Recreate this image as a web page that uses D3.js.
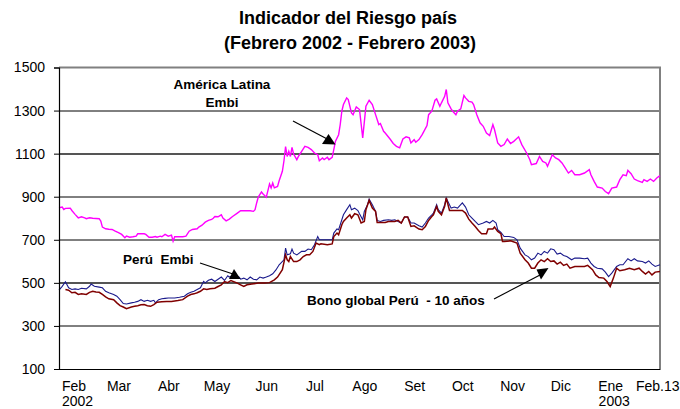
<!DOCTYPE html>
<html>
<head>
<meta charset="utf-8">
<script src="https://cdn.jsdelivr.net/npm/d3@7"></script>
<style>
  body { margin: 0; background: #fff; }
  svg { font-family: Arial, "Liberation Sans", sans-serif; }
  .note { font-size: 13.5px; font-weight: bold; white-space: pre; }
</style>
</head>
<body>
<div id="chart"></div>
<script>
// Chart values
var yTicks = [100, 300, 500, 700, 900, 1100, 1300, 1500];
var monthTicks = ["2002-02-13", "2002-03-13", "2002-04-13", "2002-05-13", "2002-06-13", "2002-07-13",
  "2002-08-13", "2002-09-13", "2002-10-13", "2002-11-13", "2002-12-13", "2003-01-13", "2003-02-13"];
var monthLabels = ["Feb", "Mar", "Abr", "May", "Jun", "Jul", "Ago", "Set", "Oct", "Nov", "Dic", "Ene", "Feb.13"];
var yearLabels = [["2002-02-13", "2002"], ["2003-01-13", "2003"]];

// América Latina Embi
var latamEmbi = [
  ["2002-02-04",849],["2002-02-06",852],["2002-02-07",841],["2002-02-08",846],["2002-02-11",847],["2002-02-12",836],
  ["2002-02-14",818],["2002-02-16",802],["2002-02-18",807],["2002-02-20",802],["2002-02-21",798],["2002-02-23",802],
  ["2002-02-25",800],["2002-02-27",799],["2002-03-01",798],["2002-03-02",787],["2002-03-03",759],["2002-03-05",751],
  ["2002-03-07",749],["2002-03-09",748],["2002-03-11",740],["2002-03-13",733],["2002-03-15",725],["2002-03-17",709],
  ["2002-03-18",717],["2002-03-20",712],["2002-03-22",714],["2002-03-24",717],["2002-03-25",728],["2002-03-27",728],
  ["2002-03-29",728],["2002-03-30",725],["2002-04-01",712],["2002-04-03",712],["2002-04-05",715],["2002-04-06",712],
  ["2002-04-08",717],["2002-04-09",714],["2002-04-11",725],["2002-04-13",717],["2002-04-15",722],["2002-04-16",694],
  ["2002-04-17",714],["2002-04-19",714],["2002-04-22",714],["2002-04-24",717],["2002-04-26",740],["2002-04-28",748],
  ["2002-05-01",751],["2002-05-02",759],["2002-05-04",768],["2002-05-06",782],["2002-05-08",790],["2002-05-10",795],
  ["2002-05-11",800],["2002-05-12",808],["2002-05-14",807],["2002-05-16",816],["2002-05-17",801],["2002-05-19",788],
  ["2002-05-21",796],["2002-05-23",808],["2002-05-26",824],["2002-05-28",835],["2002-05-30",835],["2002-06-01",835],
  ["2002-06-03",835],["2002-06-05",832],["2002-06-06",840],["2002-06-07",871],["2002-06-08",898],["2002-06-10",922],
  ["2002-06-11",913],["2002-06-13",898],["2002-06-14",928],["2002-06-15",959],["2002-06-16",941],["2002-06-17",964],
  ["2002-06-18",941],["2002-06-20",948],["2002-06-21",974],["2002-06-23",1018],["2002-06-24",1067],["2002-06-25",1133],
  ["2002-06-26",1087],["2002-06-27",1111],["2002-06-28",1087],["2002-06-29",1129],["2002-06-30",1098],["2002-07-02",1072],
  ["2002-07-03",1087],["2002-07-05",1111],["2002-07-07",1134],["2002-07-09",1129],["2002-07-11",1119],["2002-07-13",1103],
  ["2002-07-15",1095],["2002-07-16",1067],["2002-07-18",1080],["2002-07-19",1072],["2002-07-21",1083],["2002-07-22",1072],
  ["2002-07-24",1083],["2002-07-25",1119],["2002-07-26",1157],["2002-07-28",1188],["2002-07-29",1235],["2002-07-30",1297],
  ["2002-07-31",1328],["2002-08-02",1359],["2002-08-03",1351],["2002-08-05",1289],["2002-08-06",1281],["2002-08-08",1317],
  ["2002-08-10",1305],["2002-08-12",1173],["2002-08-14",1320],["2002-08-16",1348],["2002-08-18",1328],["2002-08-20",1281],
  ["2002-08-22",1235],["2002-08-23",1240],["2002-08-25",1204],["2002-08-26",1196],["2002-08-29",1168],["2002-08-31",1147],
  ["2002-09-02",1134],["2002-09-04",1127],["2002-09-06",1168],["2002-09-08",1178],["2002-09-10",1173],["2002-09-11",1150],
  ["2002-09-13",1165],["2002-09-14",1153],["2002-09-16",1165],["2002-09-18",1188],["2002-09-21",1230],["2002-09-22",1281],
  ["2002-09-24",1297],["2002-09-26",1348],["2002-09-27",1354],["2002-09-29",1320],["2002-09-30",1336],["2002-10-02",1366],
  ["2002-10-03",1398],["2002-10-04",1336],["2002-10-06",1308],["2002-10-07",1297],["2002-10-09",1281],["2002-10-10",1297],
  ["2002-10-12",1308],["2002-10-14",1370],["2002-10-15",1359],["2002-10-17",1343],["2002-10-19",1339],["2002-10-20",1328],
  ["2002-10-22",1281],["2002-10-24",1243],["2002-10-26",1227],["2002-10-28",1196],["2002-10-30",1184],["2002-11-01",1235],
  ["2002-11-02",1212],["2002-11-04",1150],["2002-11-06",1134],["2002-11-08",1142],["2002-11-10",1168],["2002-11-12",1147],
  ["2002-11-14",1157],["2002-11-17",1178],["2002-11-19",1142],["2002-11-22",1103],["2002-11-24",1072],["2002-11-25",1049],
  ["2002-11-28",1054],["2002-11-30",1087],["2002-12-02",1064],["2002-12-04",1057],["2002-12-05",1041],["2002-12-08",1095],
  ["2002-12-10",1080],["2002-12-12",1072],["2002-12-14",1057],["2002-12-16",1034],["2002-12-18",1010],["2002-12-20",1022],
  ["2002-12-22",1002],["2002-12-25",1002],["2002-12-28",1010],["2002-12-31",1026],["2003-01-01",1002],["2003-01-03",971],
  ["2003-01-05",945],["2003-01-08",940],["2003-01-10",924],["2003-01-12",914],["2003-01-14",940],["2003-01-17",945],
  ["2003-01-19",979],["2003-01-21",1002],["2003-01-23",998],["2003-01-24",1022],["2003-01-26",1007],["2003-01-28",982],
  ["2003-01-30",975],["2003-02-02",967],["2003-02-03",979],["2003-02-05",971],["2003-02-07",982],["2003-02-09",971],
  ["2003-02-11",987],["2003-02-13",998]
];

// Perú Embi
var peruEmbi = [
  ["2002-02-04",466],["2002-02-06",484],["2002-02-08",505],["2002-02-10",477],["2002-02-12",469],["2002-02-14",472],
  ["2002-02-16",469],["2002-02-18",475],["2002-02-21",472],["2002-02-23",484],["2002-02-24",495],["2002-02-26",484],
  ["2002-03-01",480],["2002-03-03",477],["2002-03-05",461],["2002-03-07",454],["2002-03-10",446],["2002-03-12",438],
  ["2002-03-14",422],["2002-03-16",404],["2002-03-18",402],["2002-03-21",407],["2002-03-23",410],["2002-03-25",414],
  ["2002-03-27",422],["2002-03-29",414],["2002-03-31",419],["2002-04-02",414],["2002-04-04",419],["2002-04-05",407],
  ["2002-04-07",422],["2002-04-09",426],["2002-04-11",428],["2002-04-13",430],["2002-04-17",430],["2002-04-20",433],
  ["2002-04-23",438],["2002-04-25",449],["2002-04-27",456],["2002-04-29",461],["2002-05-01",469],["2002-05-03",477],
  ["2002-05-05",507],["2002-05-06",500],["2002-05-08",512],["2002-05-10",517],["2002-05-12",506],["2002-05-14",517],
  ["2002-05-16",527],["2002-05-18",511],["2002-05-20",533],["2002-05-21",527],["2002-05-23",533],["2002-05-27",527],
  ["2002-05-28",517],["2002-05-30",522],["2002-06-01",514],["2002-06-03",527],["2002-06-05",517],["2002-06-07",514],
  ["2002-06-09",527],["2002-06-11",522],["2002-06-13",527],["2002-06-15",533],["2002-06-17",542],["2002-06-19",560],
  ["2002-06-21",584],["2002-06-24",607],["2002-06-25",661],["2002-06-26",630],["2002-06-28",635],["2002-06-29",657],
  ["2002-06-30",638],["2002-07-02",630],["2002-07-05",646],["2002-07-07",646],["2002-07-09",657],["2002-07-11",654],
  ["2002-07-13",677],["2002-07-15",715],["2002-07-16",700],["2002-07-18",700],["2002-07-21",700],["2002-07-24",700],
  ["2002-07-25",731],["2002-07-27",750],["2002-07-28",747],["2002-07-30",793],["2002-07-31",816],["2002-08-02",840],
  ["2002-08-04",863],["2002-08-05",840],["2002-08-07",847],["2002-08-09",836],["2002-08-10",821],["2002-08-12",793],
  ["2002-08-13",832],["2002-08-15",863],["2002-08-16",889],["2002-08-18",863],["2002-08-20",832],["2002-08-21",790],
  ["2002-08-23",785],["2002-08-25",790],["2002-08-28",793],["2002-08-30",790],["2002-09-01",793],["2002-09-03",785],
  ["2002-09-05",778],["2002-09-07",806],["2002-09-09",806],["2002-09-11",778],["2002-09-13",778],["2002-09-16",765],
  ["2002-09-18",759],["2002-09-20",778],["2002-09-22",801],["2002-09-24",816],["2002-09-25",824],["2002-09-27",863],
  ["2002-09-28",840],["2002-09-30",824],["2002-10-02",863],["2002-10-03",894],["2002-10-05",863],["2002-10-06",847],
  ["2002-10-08",852],["2002-10-10",847],["2002-10-13",871],["2002-10-15",852],["2002-10-17",816],["2002-10-19",801],
  ["2002-10-21",785],["2002-10-23",770],["2002-10-26",778],["2002-10-28",785],["2002-10-30",778],["2002-11-01",790],
  ["2002-11-03",778],["2002-11-04",747],["2002-11-06",734],["2002-11-08",715],["2002-11-11",715],["2002-11-14",711],
  ["2002-11-16",700],["2002-11-18",661],["2002-11-21",630],["2002-11-23",622],["2002-11-25",607],["2002-11-27",615],
  ["2002-11-29",638],["2002-12-01",630],["2002-12-03",646],["2002-12-05",638],["2002-12-07",658],["2002-12-09",654],
  ["2002-12-11",634],["2002-12-13",638],["2002-12-15",627],["2002-12-17",622],["2002-12-20",607],["2002-12-22",615],
  ["2002-12-25",615],["2002-12-28",612],["2002-12-30",615],["2003-01-01",592],["2003-01-03",576],["2003-01-05",568],
  ["2003-01-08",565],["2003-01-10",550],["2003-01-12",529],["2003-01-14",545],["2003-01-17",576],["2003-01-19",584],
  ["2003-01-21",584],["2003-01-24",612],["2003-01-26",602],["2003-01-28",612],["2003-01-30",602],["2003-02-02",599],
  ["2003-02-04",592],["2003-02-06",602],["2003-02-08",587],["2003-02-10",576],["2003-02-13",584]
];

// Bono global Perú - 10 años
var bonoGlobal = [
  ["2002-02-08",469],["2002-02-10",466],["2002-02-12",454],["2002-02-14",456],["2002-02-16",446],["2002-02-18",449],
  ["2002-02-21",446],["2002-02-23",456],["2002-02-25",461],["2002-02-27",458],["2002-03-01",456],["2002-03-03",446],
  ["2002-03-05",435],["2002-03-07",426],["2002-03-10",422],["2002-03-12",407],["2002-03-14",394],["2002-03-16",388],
  ["2002-03-18",380],["2002-03-21",388],["2002-03-23",391],["2002-03-25",394],["2002-03-27",398],["2002-03-29",399],
  ["2002-03-31",394],["2002-04-02",391],["2002-04-04",399],["2002-04-06",410],["2002-04-09",412],["2002-04-12",414],
  ["2002-04-15",414],["2002-04-19",418],["2002-04-22",422],["2002-04-25",438],["2002-04-27",446],["2002-04-29",449],
  ["2002-05-01",454],["2002-05-03",461],["2002-05-05",472],["2002-05-07",469],["2002-05-09",473],["2002-05-12",475],
  ["2002-05-14",483],["2002-05-16",491],["2002-05-18",506],["2002-05-20",501],["2002-05-22",511],["2002-05-26",499],
  ["2002-05-28",491],["2002-05-30",483],["2002-06-01",491],["2002-06-04",495],["2002-06-08",499],["2002-06-12",499],
  ["2002-06-15",501],["2002-06-18",514],["2002-06-20",527],["2002-06-23",561],["2002-06-25",630],["2002-06-26",607],
  ["2002-06-27",599],["2002-06-28",622],["2002-06-30",599],["2002-07-02",599],["2002-07-04",607],["2002-07-06",622],
  ["2002-07-08",630],["2002-07-10",630],["2002-07-12",646],["2002-07-14",685],["2002-07-16",677],["2002-07-17",681],
  ["2002-07-21",677],["2002-07-24",681],["2002-07-25",715],["2002-07-27",731],["2002-07-28",723],["2002-07-30",770],
  ["2002-07-31",785],["2002-08-02",801],["2002-08-04",816],["2002-08-05",801],["2002-08-07",821],["2002-08-09",816],
  ["2002-08-11",778],["2002-08-13",785],["2002-08-14",840],["2002-08-16",883],["2002-08-18",847],["2002-08-20",832],
  ["2002-08-21",780],["2002-08-23",780],["2002-08-26",780],["2002-08-28",785],["2002-08-30",785],["2002-09-01",785],
  ["2002-09-03",790],["2002-09-05",778],["2002-09-07",806],["2002-09-09",806],["2002-09-11",762],["2002-09-13",765],
  ["2002-09-16",750],["2002-09-18",747],["2002-09-20",762],["2002-09-22",790],["2002-09-24",808],["2002-09-25",816],
  ["2002-09-27",855],["2002-09-28",832],["2002-09-30",816],["2002-10-02",855],["2002-10-03",894],["2002-10-05",836],
  ["2002-10-07",836],["2002-10-10",836],["2002-10-13",836],["2002-10-15",824],["2002-10-17",796],["2002-10-19",778],
  ["2002-10-21",762],["2002-10-23",743],["2002-10-25",728],["2002-10-28",728],["2002-10-29",750],["2002-11-01",750],
  ["2002-11-02",759],["2002-11-04",739],["2002-11-06",728],["2002-11-07",692],["2002-11-08",692],["2002-11-12",695],
  ["2002-11-16",685],["2002-11-18",638],["2002-11-21",607],["2002-11-23",592],["2002-11-25",568],["2002-11-27",568],
  ["2002-11-29",592],["2002-12-01",607],["2002-12-03",599],["2002-12-05",612],["2002-12-07",599],["2002-12-09",602],
  ["2002-12-11",587],["2002-12-13",596],["2002-12-15",581],["2002-12-17",587],["2002-12-19",568],["2002-12-22",576],
  ["2002-12-25",576],["2002-12-28",576],["2002-12-30",581],["2003-01-02",561],["2003-01-04",537],["2003-01-06",525],
  ["2003-01-09",522],["2003-01-11",506],["2003-01-13",483],["2003-01-15",522],["2003-01-17",568],["2003-01-19",556],
  ["2003-01-22",561],["2003-01-25",568],["2003-01-28",561],["2003-01-31",568],["2003-02-02",553],["2003-02-04",541],
  ["2003-02-06",553],["2003-02-08",537],["2003-02-10",550],["2003-02-13",553]
];

// SVG area
var svgWidth = 680;
var svgHeight = 409;
var margin = { top: 67.5, right: 20, bottom: 40, left: 59 };
var chartWidth = svgWidth - margin.left - margin.right;
var chartHeight = 369 - margin.top;

var svg = d3.select("#chart")
  .append("svg")
  .attr("width", svgWidth)
  .attr("height", svgHeight);

var parseTime = d3.timeParse("%Y-%m-%d");

// Title
svg.append("text")
  .attr("x", 348).attr("y", 24)
  .attr("text-anchor", "middle")
  .style("font-size", "18px").style("font-weight", "bold")
  .text("Indicador del Riesgo país");
svg.append("text")
  .attr("x", 350).attr("y", 49)
  .attr("text-anchor", "middle")
  .style("font-size", "18px").style("font-weight", "bold")
  .text("(Febrero 2002 - Febrero 2003)");

var chartGroup = svg.append("g")
  .attr("transform", `translate(${margin.left}, ${margin.top})`);

var xTimeScale = d3.scaleTime()
  .domain([parseTime("2002-02-04"), parseTime("2003-02-13")])
  .range([0, chartWidth]);

var yLinearScale = d3.scaleLinear()
  .domain([100, 1500])
  .range([chartHeight, 0]);

// Gridlines
chartGroup.selectAll(".grid")
  .data(yTicks.filter(v => v > 100 && v < 1500))
  .enter()
  .append("line")
  .attr("class", "grid")
  .attr("x1", 0).attr("x2", chartWidth)
  .attr("y1", d => Math.round(yLinearScale(d)) + 0.5)
  .attr("y2", d => Math.round(yLinearScale(d)) + 0.5)
  .attr("stroke", d => (d === 1100 || d === 500) ? "#555" : "#000")
  .attr("stroke-width", d => (d === 1100 || d === 500) ? 2 : 1);

// Plot border top and right
chartGroup.append("path")
  .attr("d", `M0,${yLinearScale(1500)}H${chartWidth}V${chartHeight}`)
  .attr("fill", "none")
  .attr("stroke", "#808080")
  .attr("stroke-width", 2);

// Lines
var drawLine = d3.line()
  .x(d => xTimeScale(parseTime(d[0])))
  .y(d => yLinearScale(d[1]));

chartGroup.append("path")
  .attr("d", drawLine(latamEmbi))
  .attr("fill", "none").attr("stroke", "#ff00ff").attr("stroke-width", 1.4);

chartGroup.append("path")
  .attr("d", drawLine(peruEmbi))
  .attr("fill", "none").attr("stroke", "#1a1a8c").attr("stroke-width", 1.1);

chartGroup.append("path")
  .attr("d", drawLine(bonoGlobal))
  .attr("fill", "none").attr("stroke", "#800000").attr("stroke-width", 1.5);

// Axes
var leftAxis = d3.axisLeft(yLinearScale)
  .tickValues(yTicks)
  .tickSize(5)
  .tickPadding(9)
  .tickFormat(d3.format("d"));

var bottomAxis = d3.axisBottom(xTimeScale)
  .tickValues(monthTicks.map(parseTime))
  .tickSize(0)
  .tickPadding(12)
  .tickFormat((d, i) => monthLabels[i]);

var yAxisG = chartGroup.append("g").call(leftAxis);
var xAxisG = chartGroup.append("g")
  .attr("transform", "translate(0, " + chartHeight + ")")
  .call(bottomAxis);

[yAxisG, xAxisG].forEach(function(g) {
  g.selectAll("text").style("font-size", "14px").attr("fill", "#000");
  g.selectAll("path, line").attr("stroke", "#000");
  g.select(".domain").attr("stroke-width", 1.2);
});

// keep the last label ("Feb.13") inside the picture
xAxisG.selectAll(".tick text")
  .filter((d, i) => i === monthLabels.length - 1)
  .attr("text-anchor", "end")
  .attr("x", svgWidth - 1 - margin.left - chartWidth);

chartGroup.selectAll(".year")
  .data(yearLabels)
  .enter()
  .append("text")
  .attr("class", "year")
  .attr("x", d => xTimeScale(parseTime(d[0])) + 4)
  .attr("y", chartHeight + 36.5)
  .attr("text-anchor", "middle")
  .style("font-size", "14px")
  .text(d => d[1]);

/**
 * Annotations
 */
var notes = svg.append("g");

notes.append("text").attr("class", "note")
  .attr("x", 222).attr("y", 89).attr("text-anchor", "middle")
  .text("América Latina");
notes.append("text").attr("class", "note")
  .attr("x", 222).attr("y", 107).attr("text-anchor", "middle")
  .text("Embi");
notes.append("text").attr("class", "note")
  .attr("x", 123).attr("y", 264)
  .text("Perú  Embi");
notes.append("text").attr("class", "note")
  .attr("x", 307).attr("y", 305)
  .text("Bono global Perú  - 10 años");

var arrows = [
  { line: [[293, 121], [331, 141]], head: [[322, 144], [335.5, 144.5], [328.5, 134]] },
  { line: [[200, 263], [233, 274]], head: [[229, 279], [240.5, 279], [234, 269]] },
  { line: [[494, 299], [540, 275]], head: [[536.5, 269.5], [548.5, 268], [541, 279.5]] }
];

arrows.forEach(function(a) {
  notes.append("line")
    .attr("x1", a.line[0][0]).attr("y1", a.line[0][1])
    .attr("x2", a.line[1][0]).attr("y2", a.line[1][1])
    .attr("stroke", "#000").attr("stroke-width", 1.2);
  notes.append("polygon")
    .attr("points", a.head.map(p => p.join(",")).join(" "))
    .attr("fill", "#000");
});
</script>
</body>
</html>
